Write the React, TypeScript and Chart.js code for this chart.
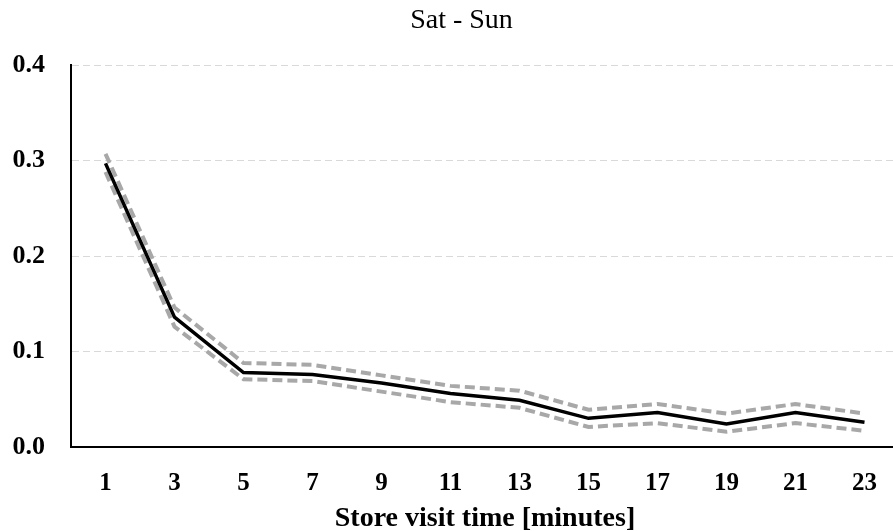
import React, { useEffect, useRef } from "react";
import { Chart, registerables } from "chart.js";

Chart.register(...registerables);

const categories = ["1", "3", "5", "7", "9", "11", "13", "15", "17", "19", "21", "23"];
const meanValues = [0.297, 0.136, 0.078, 0.076, 0.067, 0.056, 0.049, 0.030, 0.036, 0.024, 0.036, 0.026];
const upperValues = [0.307, 0.146, 0.088, 0.086, 0.075, 0.064, 0.059, 0.039, 0.045, 0.035, 0.045, 0.035];
const lowerValues = [0.288, 0.126, 0.071, 0.069, 0.058, 0.047, 0.041, 0.021, 0.025, 0.016, 0.025, 0.017];
const yTicks = [0, 0.1, 0.2, 0.3, 0.4];
const chartTitle = "Sat - Sun";
const xAxisTitle = "Store visit time [minutes]";

const SERIF = "'Liberation Serif', 'Times New Roman', serif";

const titlesPlugin = {
  id: "titlesText",
  afterDraw: (chart: any) => {
    const ctx = chart.ctx;
    const area = chart.chartArea;
    ctx.save();
    ctx.fillStyle = "#000000";
    ctx.textAlign = "center";
    ctx.textBaseline = "alphabetic";
    ctx.font = `normal 28px ${SERIF}`;
    ctx.fillText(chartTitle, chart.width / 2, 28);
    ctx.font = `bold 28px ${SERIF}`;
    ctx.fillText(xAxisTitle, (area.left + area.right) / 2, 526);
    ctx.restore();
  },
};

export default function App() {
  const ref = useRef<HTMLCanvasElement | null>(null);

  useEffect(() => {
    document.body.style.margin = "0";
    const canvas = ref.current;
    if (!canvas) return;
    const chart = new Chart(canvas, {
      type: "line",
      data: {
        labels: categories,
        datasets: [
          {
            label: "Mean",
            data: meanValues,
            borderColor: "#000000",
            borderWidth: 3.5,
            pointRadius: 0,
            tension: 0,
            order: 0,
          },
          {
            label: "Upper",
            data: upperValues,
            borderColor: "#a8a8a8",
            borderWidth: 4,
            borderDash: [10, 5],
            pointRadius: 0,
            tension: 0,
            order: 1,
          },
          {
            label: "Lower",
            data: lowerValues,
            borderColor: "#a8a8a8",
            borderWidth: 4,
            borderDash: [10, 5],
            pointRadius: 0,
            tension: 0,
            order: 1,
          },
        ],
      },
      options: {
        animation: false,
        responsive: false,
        maintainAspectRatio: false,
        layout: { padding: { left: 0, right: 24, top: 65, bottom: 0 } },
        plugins: {
          legend: { display: false },
          tooltip: { enabled: false },
          title: { display: false },
        },
        scales: {
          x: {
            type: "category",
            offset: true,
            grid: { display: false, drawTicks: false },
            border: { display: true, color: "#000000", width: 2 },
            ticks: {
              color: "#000000",
              font: { family: SERIF, size: 25, weight: "bold" },
              padding: 22,
              maxRotation: 0,
              autoSkip: false,
            },
            title: { display: false },
            afterFit: (scale: any) => {
              scale.height = 84;
            },
          },
          y: {
            min: 0,
            max: 0.4,
            afterBuildTicks: (scale: any) => {
              scale.ticks = yTicks.map((v) => ({ value: v }));
            },
            grid: {
              display: true,
              drawTicks: false,
              color: (ctx: any) => (ctx.tick && ctx.tick.value === 0 ? "rgba(0,0,0,0)" : "#d9d9d9"),
              lineWidth: 1,
            },
            border: { display: true, color: "#000000", width: 2, dash: [7, 4] },
            ticks: {
              color: "#000000",
              font: { family: SERIF, size: 26, weight: "bold" },
              padding: 26,
              callback: (v: any) => Number(v).toFixed(1),
            },
            afterFit: (scale: any) => {
              scale.width = 71;
            },
          },
        },
      },
      plugins: [titlesPlugin],
    } as any);
    return () => chart.destroy();
  }, []);

  return (
    <div style={{ position: "absolute", left: 0, top: 0, width: 893, height: 531, overflow: "hidden" }}>
      <canvas ref={ref} width={923} height={531} style={{ width: 923, height: 531, display: "block" }} />
    </div>
  );
}
